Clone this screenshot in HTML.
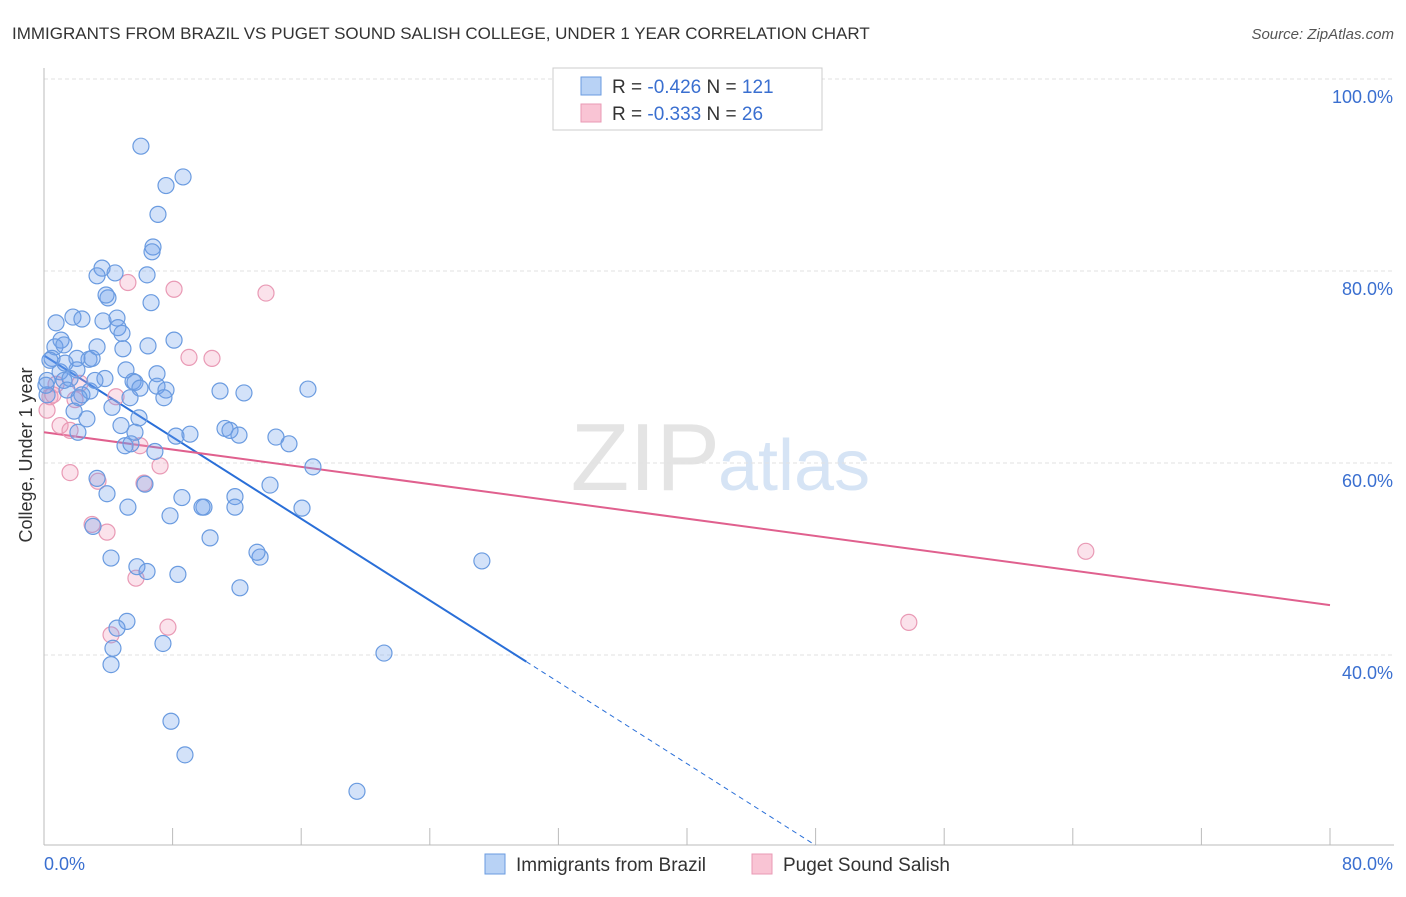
<!DOCTYPE html>
<html><head><meta charset="utf-8"><style>
body{margin:0;background:#fff;font-family:"Liberation Sans",sans-serif;}
svg text{font-family:"Liberation Sans",sans-serif;}
</style></head><body>
<svg id="chart" width="1406" height="892" xmlns="http://www.w3.org/2000/svg">
<text x="12" y="39" font-size="17" fill="#333">IMMIGRANTS FROM BRAZIL VS PUGET SOUND SALISH COLLEGE, UNDER 1 YEAR CORRELATION CHART</text>
<text x="1394" y="39" font-size="15" fill="#555" text-anchor="end" font-style="italic">Source: ZipAtlas.com</text>
<text x="720" y="490" font-size="96" fill="#e4e4e4" text-anchor="end" font-family="Liberation Serif">ZIP</text>
<text x="718" y="490" font-size="72" fill="#d6e4f5">atlas</text>
<g id="grid"></g><g id="axes"></g><g id="lines"></g><g id="pts"></g>
<text x="32" y="455" font-size="18" fill="#333" text-anchor="middle" transform="rotate(-90 32 455)">College, Under 1 year</text>
<g>
<rect x="553" y="68" width="269" height="62" fill="#fff" stroke="#ccc"/>
<rect x="581" y="77" width="20" height="18" fill="#b8d2f5" stroke="#6a9be0"/>
<rect x="581" y="104" width="20" height="18" fill="#f9c4d4" stroke="#e99ab5"/>
<text x="612" y="93" font-size="19" fill="#333">R = <tspan fill="#3a6fd0">-0.426</tspan>   N = <tspan fill="#3a6fd0">121</tspan></text>
<text x="612" y="120" font-size="19" fill="#333">R = <tspan fill="#3a6fd0">-0.333</tspan>   N =  <tspan fill="#3a6fd0">26</tspan></text>
</g>
<g>
<rect x="485" y="854" width="20" height="20" fill="#b8d2f5" stroke="#6a9be0"/>
<text x="516" y="871" font-size="19" fill="#333">Immigrants from Brazil</text>
<rect x="752" y="854" width="20" height="20" fill="#f9c4d4" stroke="#e99ab5"/>
<text x="783" y="871" font-size="19" fill="#333">Puget Sound Salish</text>
</g>
</svg>
<script>
const yTicks=[40,60,80,100];
const yTickLabels=["40.0%","60.0%","80.0%","100.0%"];
const xTickLabels=["0.0%","80.0%"];
const blueX=[6.03,7.59,8.65,7.09,6.78,6.72,3.61,4.42,3.30,6.41,3.98,3.86,6.66,0.75,1.80,2.36,3.67,4.54,4.60,4.85,8.09,6.47,1.06,0.68,1.24,0.50,2.80,2.99,2.05,4.91,3.30,1.00,1.24,2.05,1.62,3.79,5.10,5.54,5.66,7.03,7.03,7.59,5.97,7.46,10.95,12.44,16.42,0.19,0.19,1.43,2.36,2.86,2.18,1.87,2.67,2.11,4.23,5.35,5.91,4.79,5.66,5.04,5.41,6.90,8.21,9.08,11.26,11.57,12.13,14.43,15.24,16.73,3.30,3.92,5.22,6.28,8.58,9.95,9.83,11.88,11.88,14.06,16.05,7.84,3.05,10.33,4.17,5.78,6.41,8.33,13.44,13.25,12.19,27.24,5.16,4.54,4.29,7.40,4.17,21.15,7.90,8.77,19.47,0.12,0.37,1.31,3.17];
const blueY=[93.0,88.9,89.8,85.9,82.5,82.0,80.3,79.8,79.5,79.6,77.2,77.5,76.7,74.6,75.2,75.0,74.8,75.1,74.1,73.5,72.8,72.2,72.8,72.1,72.3,70.9,70.8,70.9,70.9,71.9,72.1,69.5,68.6,69.7,68.8,68.8,69.7,68.5,68.4,69.3,68.0,67.6,67.8,66.8,67.5,67.3,67.7,68.6,67.1,67.6,67.1,67.5,66.8,65.4,64.6,63.2,65.8,66.8,64.7,63.9,63.2,61.8,62.0,61.2,62.8,63.0,63.6,63.4,62.9,62.7,62.0,59.6,58.4,56.8,55.4,57.8,56.4,55.4,55.4,56.5,55.4,57.7,55.3,54.5,53.4,52.2,50.1,49.2,48.7,48.4,50.2,50.7,47.0,49.8,43.5,42.8,40.7,41.2,39.0,40.2,33.1,29.6,25.8,68.1,70.7,70.4,68.6];
const pinkX=[5.22,8.09,13.81,9.02,10.45,0.75,0.37,1.93,2.24,4.48,5.97,7.22,1.62,3.36,6.22,2.99,3.92,5.72,4.17,7.71,64.81,53.80,0.19,1.00,1.62,0.56];
const pinkY=[78.8,78.1,77.7,71.0,70.9,68.2,66.9,66.6,68.3,66.9,61.8,59.7,59.0,58.1,57.9,53.6,52.8,48.0,42.1,42.9,50.8,43.4,65.5,63.9,63.4,67.1];
const blueTrend=[71.2,-1.063];
const pinkTrend=[63.2,45.2];
const X0=44,X1=1330,YT=79,PXY=9.6;
const sx=v=>X0+v*(X1-X0)/80;
const sy=v=>YT+(100-v)*PXY;
const NS="http://www.w3.org/2000/svg";
function mk(t,a,p){const e=document.createElementNS(NS,t);for(const k in a)e.setAttribute(k,a[k]);p.appendChild(e);return e;}
const grid=document.getElementById('grid'),axes=document.getElementById('axes'),lines=document.getElementById('lines'),pts=document.getElementById('pts');
yTicks.forEach((t,i)=>{
 const l=mk('line',{x1:X0,x2:1394,y1:sy(t),y2:sy(t),stroke:'#e2e2e2','stroke-dasharray':'4,3'},grid);
 
 
 const tx=mk('text',{x:1393,y:sy(t)+24,'font-size':18,fill:'#3a6fd0','text-anchor':'end'},axes);
 tx.textContent=yTickLabels[i];
 
 
});
const ax=mk('line',{x1:X0,x2:X0,y1:68,y2:845,stroke:'#bbb'},axes);


const bx=mk('line',{x1:X0,x2:1394,y1:845,y2:845,stroke:'#bbb'},axes);


for(let i=0;i<=10;i++){
 const t=mk('line',{x1:sx(i*8),x2:sx(i*8),y1:828,y2:845,stroke:'#bbb'},axes);
 
 
}
const xl0=mk('text',{x:44,y:870,'font-size':18,fill:'#3a6fd0'},axes);xl0.textContent=xTickLabels[0];


const xl1=mk('text',{x:1393,y:870,'font-size':18,fill:'#3a6fd0','text-anchor':'end'},axes);xl1.textContent=xTickLabels[1];


function dots(xs,ys,fill,stroke,name){xs.forEach((v,i)=>{
 const c=mk('circle',{cx:sx(v),cy:sy(ys[i]),r:8,fill:fill,stroke:stroke,'stroke-width':1.2},pts);
 
 
});}
dots(pinkX,pinkY,'rgba(242,160,190,0.3)','#e99ab5','salish-point');
dots(blueX,blueY,'rgba(110,160,235,0.3)','#6a9be0','brazil-point');
const bf=x=>blueTrend[0]+blueTrend[1]*x;
const xEnd=(20.2-blueTrend[0])/blueTrend[1];
const b1=mk('line',{x1:sx(0),y1:sy(bf(0)),x2:sx(30),y2:sy(bf(30)),stroke:'#2a6fd8','stroke-width':2},lines);


const b2=mk('line',{x1:sx(30),y1:sy(bf(30)),x2:sx(xEnd),y2:sy(bf(xEnd)),stroke:'#2a6fd8','stroke-width':1,'stroke-dasharray':'5,4'},lines);


const p1=mk('line',{x1:sx(0),y1:sy(pinkTrend[0]),x2:sx(80),y2:sy(pinkTrend[1]),stroke:'#e0608e','stroke-width':2},lines);


</script>
</body></html>
